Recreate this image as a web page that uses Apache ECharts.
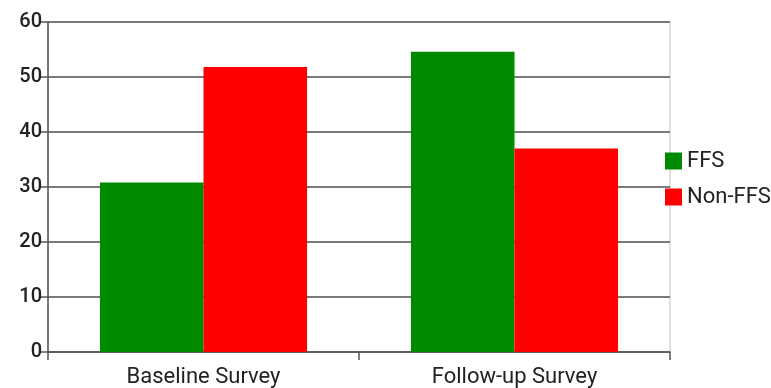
<!DOCTYPE html>
<html>
<head>
<meta charset="utf-8">
<script src="https://cdn.jsdelivr.net/npm/echarts@6/dist/echarts.min.js"></script>
<style>html,body{margin:0;padding:0;background:#fff;}#c{width:771px;height:388px;}</style>
</head>
<body>
<div id="c"></div>
<script>
const categories = ['Baseline Survey', 'Follow-up Survey'];
const ffsValues = [30.8, 54.6];
const nonFfsValues = [51.8, 37.0];
const seriesNames = ['FFS', 'Non-FFS'];

const chart = echarts.init(document.getElementById('c'), null, {renderer: 'canvas'});
chart.setOption({
  animation: false,
  backgroundColor: '#fff',
  textStyle: {fontFamily: 'Roboto'},
  grid: {left: 48, right: 101, top: 22, bottom: 36, show: true, borderColor: '#c0c0c0', borderWidth: 1, backgroundColor: 'transparent'},
  legend: {
    orient: 'vertical', left: 660, top: 145,
    itemWidth: 17, itemHeight: 17, itemGap: 14,
    icon: 'rect',
    textStyle: {fontSize: 22, color: '#222', fontFamily: 'Roboto'},
    data: seriesNames
  },
  xAxis: {
    type: 'category', data: categories,
    axisLine: {lineStyle: {color: '#555', width: 1.5}},
    axisTick: {show: true, length: 8, lineStyle: {color: '#555', width: 1.5}},
    axisLabel: {fontSize: 22, color: '#222', margin: 14, fontFamily: 'Roboto'}
  },
  yAxis: {
    type: 'value', min: 0, max: 60, interval: 10,
    axisLine: {show: true, lineStyle: {color: '#555', width: 1.5}},
    axisTick: {show: true, length: 8, lineStyle: {color: '#555', width: 1.5}},
    axisLabel: {fontSize: 20, color: '#222', margin: 6, fontWeight: 500, fontFamily: 'Roboto'},
    splitLine: {lineStyle: {color: '#7a7a7a', width: 1.8}}
  },
  series: [
    {name: seriesNames[0], type: 'bar', data: ffsValues, barGap: '0%', barCategoryGap: '33.4%', itemStyle: {color: '#008a00'}},
    {name: seriesNames[1], type: 'bar', data: nonFfsValues, barGap: '0%', barCategoryGap: '33.4%', itemStyle: {color: '#ff0000'}}
  ]
});
</script>
</body>
</html>
